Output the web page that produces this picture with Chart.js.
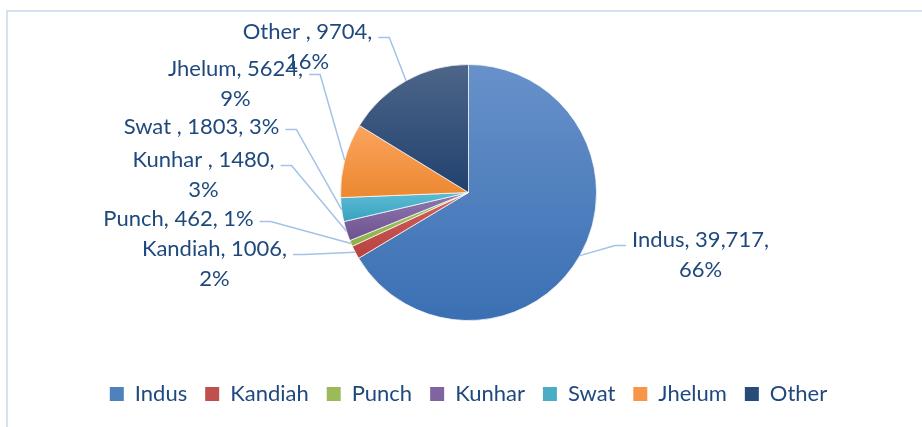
<!DOCTYPE html>
<html>
<head>
<meta charset="utf-8">
<script src="https://cdn.jsdelivr.net/npm/chart.js@4.4.1/dist/chart.umd.min.js"></script>
<style>
    html, body { margin: 0; padding: 0; background: #fff; }
    #wrap { position: relative; width: 922px; height: 427px; overflow: hidden; }
    #frame {
        position: absolute; left: 6px; top: 10px; right: -4px; bottom: -4px;
        border-left: 2px solid #d6e1f1; border-top: 2px solid #d6e1f1;
    }
    #chart_box { position: absolute; left: 0; top: 0; width: 922px; height: 427px; }
</style>
</head>
<body>
<div id="wrap">
    <div id="frame"></div>
    <div id="chart_box"><canvas id="rivers_chart"></canvas></div>
</div>
<script>
// data (MW)
const rivers = ['Indus', 'Kandiah', 'Punch', 'Kunhar ', 'Swat ', 'Jhelum', 'Other '];
const capacity = [39717, 1006, 462, 1480, 1803, 5624, 9704];
const percents = [66, 2, 1, 3, 3, 9, 16];

// colours: gradient top / bottom per slice, flat for legend
const topColors = ['#6891ca', '#d3625f', '#a9c86c', '#9079b1', '#5dbbd3', '#fba45f', '#4d6689'];
const bottomColors = ['#3a70b3', '#b8413e', '#8db04a', '#6c528f', '#38a2be', '#ec8830', '#21416e'];
const legendColors = ['#4f81bd', '#c0504d', '#9bbb59', '#8064a2', '#4bacc6', '#f79646', '#284b78'];
const textColor = '#1f497d';
const pieRadius = 128;

// label layout: offset of first text line from pie centre, wrap before percent, side of leader line
const labelSpots = [
    [232, 47, true, 'left'],
    [-254, 56, true, 'right'],
    [-290, 26, false, 'right'],
    [-265, -33, true, 'right'],
    [-267, -66, false, 'right'],
    [-233, -124, true, 'right'],
    [-161, -161, true, 'right'],
];

const total = capacity.reduce((a, c) => a + c, 0);
const fontFamily = 'Lato, "Open Sans", sans-serif';

function valueText(v) {
    return v >= 10000 ? v.toLocaleString('en-US') : String(v);
}

// vertical gradient over each slice's own bounding box
function sliceFill(context) {
    const chart = context.chart;
    const area = chart.chartArea;
    const i = context.dataIndex;
    if (!area) {
        return legendColors[i];
    }
    const cy = (area.top + area.bottom) / 2;
    let before = 0;
    for (let k = 0; k < i; k++) {
        before += capacity[k];
    }
    const a0 = -Math.PI / 2 + before / total * Math.PI * 2;
    const a1 = a0 + capacity[i] / total * Math.PI * 2;
    let ys = [cy, cy + pieRadius * Math.sin(a0), cy + pieRadius * Math.sin(a1)];
    for (const a of [-Math.PI / 2, Math.PI / 2, Math.PI * 1.5]) {
        if (a >= a0 - 1e-9 && a <= a1 + 1e-9) {
            ys.push(cy + pieRadius * Math.sin(a));
        }
    }
    const g = chart.ctx.createLinearGradient(0, Math.min(...ys), 0, Math.max(...ys));
    g.addColorStop(0, topColors[i]);
    g.addColorStop(1, bottomColors[i]);
    return g;
}

// data labels with leader lines
const sliceLabels = {
    id: 'sliceLabels',
    afterDatasetsDraw(chart) {
        const ctx = chart.ctx;
        const meta = chart.getDatasetMeta(0);
        ctx.save();
        ctx.font = '22px ' + fontFamily;
        ctx.textAlign = 'center';
        ctx.textBaseline = 'middle';
        meta.data.forEach((arc, i) => {
            const [dx, dy, wrap, side] = labelSpots[i];
            const tx = arc.x + dx;
            const ty = arc.y + dy;
            let lines;
            if (wrap) {
                lines = [rivers[i] + ', ' + valueText(capacity[i]) + ',', percents[i] + '%'];
            } else {
                lines = [rivers[i] + ', ' + valueText(capacity[i]) + ', ' + percents[i] + '%'];
            }
            const w = ctx.measureText(lines[0]).width;
            const mid = (arc.startAngle + arc.endAngle) / 2;
            const px = arc.x + Math.cos(mid) * arc.outerRadius;
            const py = arc.y + Math.sin(mid) * arc.outerRadius;
            const ly = ty + (wrap ? 6 : 3);
            const lx = side === 'right' ? tx + w / 2 + 6 : tx - w / 2 - 6;
            const ex = side === 'right' ? lx + 11 : lx - 11;

            ctx.strokeStyle = '#a3c2e6';
            ctx.lineWidth = 1.5;
            ctx.beginPath();
            ctx.moveTo(lx, ly);
            ctx.lineTo(ex, ly);
            ctx.lineTo(px, py);
            ctx.stroke();

            ctx.fillStyle = textColor;
            lines.forEach((t, n) => ctx.fillText(t, tx, ty + n * 30));
        });
        ctx.restore();
    }
};

new Chart(document.getElementById('rivers_chart'), {
    type: 'pie',
    data: {
        labels: rivers,
        datasets: [{
            data: capacity,
            backgroundColor: sliceFill,
            borderColor: 'rgba(255,255,255,0.7)',
            borderWidth: 1,
        }]
    },
    options: {
        responsive: true,
        maintainAspectRatio: false,
        animation: false,
        radius: pieRadius,
        layout: {
            padding: {top: 20, bottom: 12, left: 15, right: 0}
        },
        plugins: {
            tooltip: {enabled: false},
            legend: {
                position: 'bottom',
                labels: {
                    boxWidth: 14,
                    boxHeight: 14,
                    padding: 18,
                    color: textColor,
                    font: {
                        family: fontFamily,
                        size: 22,
                    },
                    generateLabels: function(chart) {
                        return rivers.map((r, i) => ({
                            text: r.trim(),
                            fillStyle: legendColors[i],
                            strokeStyle: legendColors[i],
                            lineWidth: 0,
                            fontColor: textColor,
                            hidden: false,
                            index: i,
                        }));
                    }
                }
            }
        }
    },
    plugins: [sliceLabels]
});
</script>
</body>
</html>
